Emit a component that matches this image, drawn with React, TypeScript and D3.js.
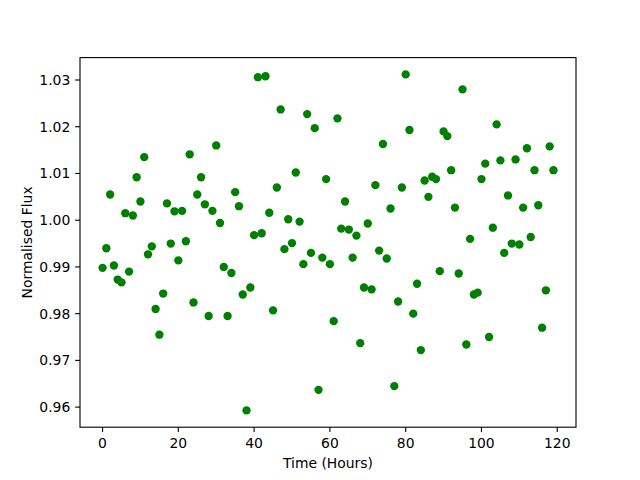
import React from "react";
import * as d3 from "d3";

const fluxValues: number[] = [
  0.9898, 0.994, 1.0055, 0.9903, 0.9873, 0.9867, 1.0015, 0.989, 1.001, 1.0092,
  1.004, 1.0135, 0.9927, 0.9944, 0.981, 0.9755, 0.9843, 1.0036, 0.995, 1.0019,
  0.9914, 1.002, 0.9955, 1.0141, 0.9824, 1.0055, 1.0092, 1.0034, 0.9795, 1.002,
  1.016, 0.9994, 0.99, 0.9795, 0.9887, 1.006, 1.003, 0.9841, 0.9593, 0.9856,
  0.9968, 1.0306, 0.9972, 1.0308, 1.0016, 0.9807, 1.007, 1.0237, 0.9938, 1.0002,
  0.9951, 1.0102, 0.9997, 0.9906, 1.0227, 0.993, 1.0197, 0.9637, 0.992, 1.0088,
  0.9906, 0.9784, 1.0218, 0.9982, 1.004, 0.998, 0.992, 0.9967, 0.9737, 0.9856,
  0.9993, 0.9852, 1.0075, 0.9935, 1.0163, 0.9918, 1.0025, 0.9645, 0.9826, 1.007,
  1.0312, 1.0193, 0.98, 0.9864, 0.9722, 1.0085, 1.005, 1.0093, 1.0088, 0.9891,
  1.019, 1.018, 1.0107, 1.0027, 0.9886, 1.028, 0.9734, 0.996, 0.9841, 0.9845,
  1.0088, 1.0121, 0.975, 0.9984, 1.0205, 1.0128, 0.993, 1.0053, 0.995, 1.013,
  0.9948, 1.0027, 1.0154, 0.9964, 1.0107, 1.0032, 0.977, 0.985, 1.0158, 1.0107,
];
const timeHours: number[] = fluxValues.map((_, i) => i);
const xTicks: number[] = [0, 20, 40, 60, 80, 100, 120];
const yTicks: number[] = [0.96, 0.97, 0.98, 0.99, 1.0, 1.01, 1.02, 1.03];

const W = 640;
const H = 480;
const left = 80;
const right = 576;
const top = 57.6;
const bottom = 427.2;
const font = "DejaVu Sans, sans-serif";
const fs = 13.9;
const tickLen = 4.86;

export default function App() {
  const [x0, x1] = d3.extent(timeHours) as [number, number];
  const xm = (x1 - x0) * 0.05;
  const [y0, y1] = d3.extent(fluxValues) as [number, number];
  const ym = (y1 - y0) * 0.05;
  const x = d3.scaleLinear().domain([x0 - xm, x1 + xm]).range([left, right]);
  const y = d3.scaleLinear().domain([y0 - ym, y1 + ym]).range([bottom, top]);

  return (
    <svg
      width={W}
      height={H}
      style={{ position: "absolute", left: 0, top: 0, background: "#fff" }}
      fontFamily={font}
    >
      <rect x={0} y={0} width={W} height={H} fill="#fff" />
      {fluxValues.map((v, i) => (
        <circle key={i} cx={x(timeHours[i])} cy={y(v)} r={4.17} fill="#008000" />
      ))}
      <rect
        x={left}
        y={top}
        width={right - left}
        height={bottom - top}
        fill="none"
        stroke="#000"
        strokeWidth={1.1}
      />
      {xTicks.map((t) => (
        <g key={t}>
          <line x1={x(t)} x2={x(t)} y1={bottom} y2={bottom + tickLen} stroke="#000" strokeWidth={1.1} />
          <text x={x(t)} y={bottom + tickLen + 4.86 + 10.6} fontSize={fs} textAnchor="middle" fill="#000">
            {t}
          </text>
        </g>
      ))}
      {yTicks.map((t) => (
        <g key={t}>
          <line x1={left - tickLen} x2={left} y1={y(t)} y2={y(t)} stroke="#000" strokeWidth={1.1} />
          <text x={left - tickLen - 4.86} y={y(t) + 5} fontSize={fs} textAnchor="end" fill="#000">
            {t.toFixed(2)}
          </text>
        </g>
      ))}
      <text x={(left + right) / 2} y={468} fontSize={fs} textAnchor="middle" fill="#000">
        Time (Hours)
      </text>
      <text
        transform={`translate(32, ${(top + bottom) / 2}) rotate(-90)`}
        fontSize={fs}
        textAnchor="middle"
        fill="#000"
      >
        Normalised Flux
      </text>
    </svg>
  );
}
